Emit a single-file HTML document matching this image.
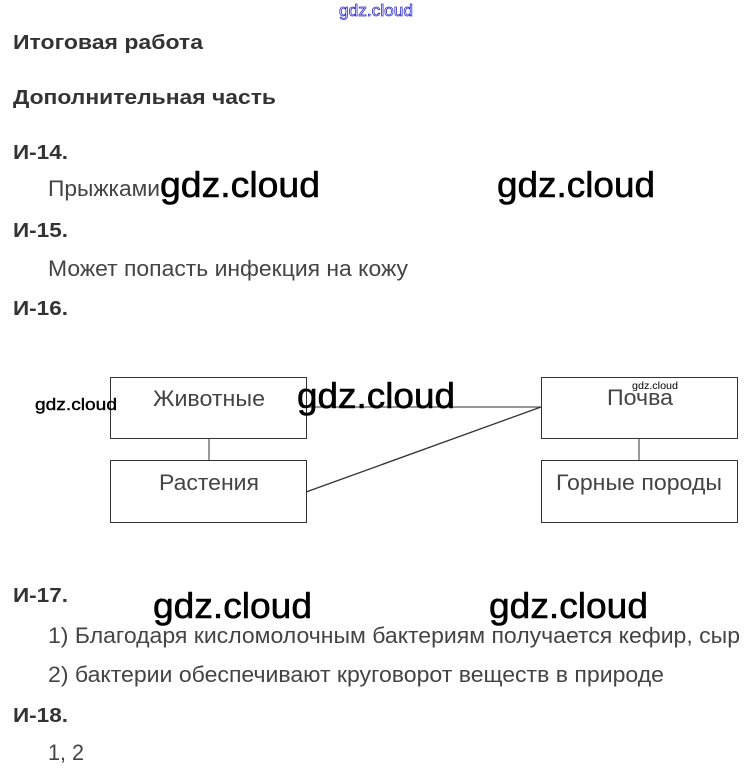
<!DOCTYPE html>
<html><head><meta charset="utf-8"><style>
html,body{margin:0;padding:0;background:#fff;}
svg{display:block;}
.h{font-family:"Liberation Sans",sans-serif;font-weight:bold;font-size:20px;fill:#333;}
.t{font-family:"Liberation Sans",sans-serif;font-size:22px;fill:#444;}
.w{font-family:"Liberation Sans",sans-serif;font-size:36px;fill:#000;stroke:#000;stroke-width:0.6;}
</style></head><body>
<svg width="753" height="772" viewBox="0 0 753 772" xmlns="http://www.w3.org/2000/svg">
<text x="339" y="16" font-family="Liberation Sans,sans-serif" font-size="17" fill="#fff" stroke="#3333cc" stroke-width="0.8" textLength="74" lengthAdjust="spacingAndGlyphs">gdz.cloud</text>
<text class="h" x="13" y="49" textLength="190" lengthAdjust="spacingAndGlyphs">Итоговая работа</text>
<text class="h" x="13" y="104" textLength="263" lengthAdjust="spacingAndGlyphs">Дополнительная часть</text>
<text class="h" x="13" y="159" textLength="55" lengthAdjust="spacingAndGlyphs">И-14.</text>
<text class="t" x="48" y="196" textLength="112" lengthAdjust="spacingAndGlyphs">Прыжками</text>
<text class="w" x="160" y="197" textLength="160" lengthAdjust="spacingAndGlyphs">gdz.cloud</text>
<text class="w" x="497" y="197" textLength="158" lengthAdjust="spacingAndGlyphs">gdz.cloud</text>
<text class="h" x="13" y="237" textLength="55" lengthAdjust="spacingAndGlyphs">И-15.</text>
<text class="t" x="48" y="276" textLength="360" lengthAdjust="spacingAndGlyphs">Может попасть инфекция на кожу</text>
<text class="h" x="13" y="315" textLength="55" lengthAdjust="spacingAndGlyphs">И-16.</text>

<g stroke="#333" stroke-width="1.3" fill="none" shape-rendering="crispEdges">
<rect x="110.5" y="377.5" width="196" height="61"/>
<rect x="110.5" y="460.5" width="196" height="62"/>
<rect x="541.5" y="377.5" width="196" height="61"/>
<rect x="541.5" y="460.5" width="196" height="62"/>
<line x1="209" y1="438" x2="209" y2="460"/>
<line x1="639" y1="438" x2="639" y2="460"/>
<line x1="306" y1="407" x2="541" y2="407"/>
</g>
<line x1="306" y1="492" x2="541" y2="407" stroke="#333" stroke-width="1.3"/>
<text class="t" x="153" y="406" textLength="112" lengthAdjust="spacingAndGlyphs">Животные</text>
<text class="t" x="159" y="490" textLength="100" lengthAdjust="spacingAndGlyphs">Растения</text>
<text class="t" x="607" y="405" textLength="66" lengthAdjust="spacingAndGlyphs">Почва</text>
<text class="t" x="556" y="490" textLength="166" lengthAdjust="spacingAndGlyphs">Горные породы</text>
<text x="35" y="410" font-family="Liberation Sans,sans-serif" font-size="17" fill="#000" stroke="#000" stroke-width="0.4" textLength="82" lengthAdjust="spacingAndGlyphs">gdz.cloud</text>
<text class="w" x="297" y="408" textLength="158" lengthAdjust="spacingAndGlyphs">gdz.cloud</text>
<text x="632" y="389" font-family="Liberation Sans,sans-serif" font-size="10" fill="#000" textLength="46" lengthAdjust="spacingAndGlyphs">gdz.cloud</text>

<text class="h" x="13" y="602" textLength="55" lengthAdjust="spacingAndGlyphs">И-17.</text>
<text class="w" x="153" y="618" textLength="159" lengthAdjust="spacingAndGlyphs">gdz.cloud</text>
<text class="w" x="489" y="618" textLength="159" lengthAdjust="spacingAndGlyphs">gdz.cloud</text>
<text class="t" x="48" y="643" textLength="692" lengthAdjust="spacingAndGlyphs">1) Благодаря кисломолочным бактериям получается кефир, сыр</text>
<text class="t" x="48" y="682" textLength="616" lengthAdjust="spacingAndGlyphs">2) бактерии обеспечивают круговорот веществ в природе</text>
<text class="h" x="13" y="722" textLength="55" lengthAdjust="spacingAndGlyphs">И-18.</text>
<text class="t" x="48" y="760" textLength="36" lengthAdjust="spacingAndGlyphs">1, 2</text>
</svg>
</body></html>
